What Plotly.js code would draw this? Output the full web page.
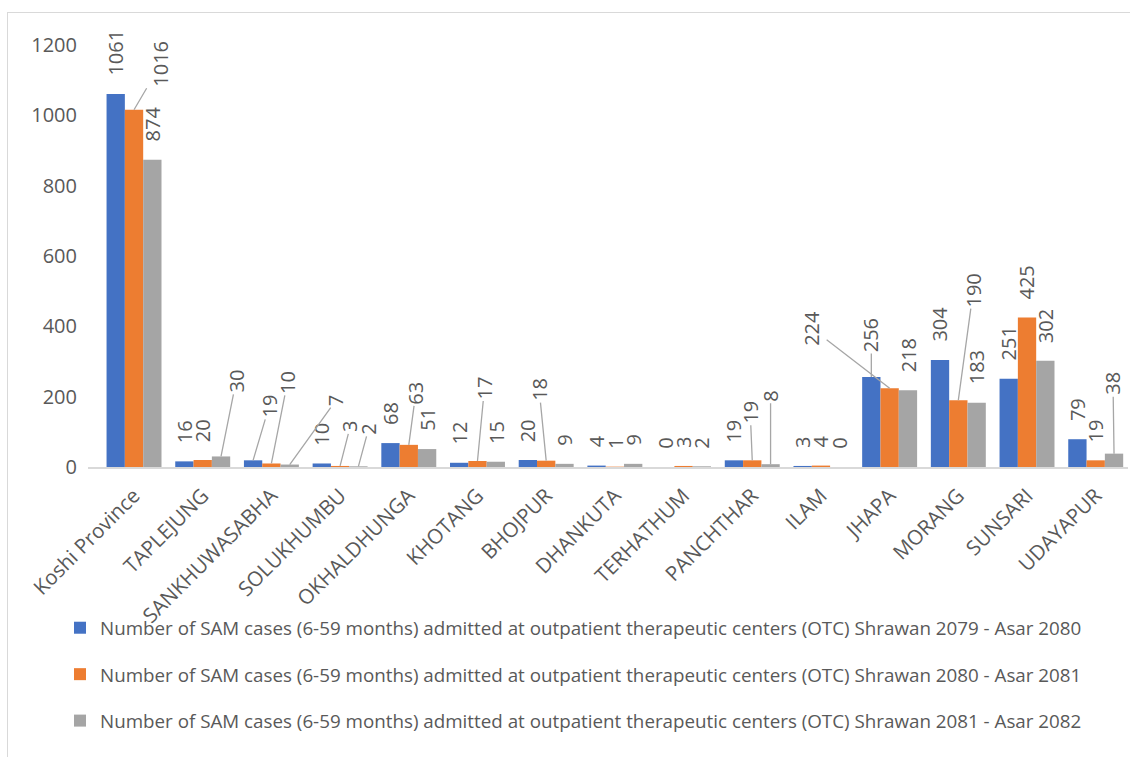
<!DOCTYPE html>
<html>
<head>
<meta charset="utf-8">
<script src="https://cdn.plot.ly/plotly-3.0.1.min.js"></script>
<style>
  html, body { margin: 0; padding: 0; background: #ffffff; overflow: hidden; }
  #wrap { position: relative; width: 1130px; height: 757px; }
  #chart { position: absolute; left: 0; top: 0; width: 1130px; height: 757px; }
  #frame { position: absolute; left: 7px; top: 12px; width: 1200px; height: 800px;
           border: 1px solid #d9d9d9; pointer-events: none; box-sizing: border-box; }
</style>
</head>
<body>
<div id="wrap">
  <div id="chart"></div>
  <div id="frame"></div>
</div>
<script>
// ---- data ----
const categories = ['Koshi Province', 'TAPLEJUNG', 'SANKHUWASABHA', 'SOLUKHUMBU', 'OKHALDHUNGA',
  'KHOTANG', 'BHOJPUR', 'DHANKUTA', 'TERHATHUM', 'PANCHTHAR', 'ILAM', 'JHAPA', 'MORANG',
  'SUNSARI', 'UDAYAPUR'];
const seriesNames = [
  'Number of SAM cases (6-59 months) admitted at outpatient therapeutic centers (OTC) Shrawan 2079 - Asar 2080',
  'Number of SAM cases (6-59 months) admitted at outpatient therapeutic centers (OTC) Shrawan 2080 - Asar 2081',
  'Number of SAM cases (6-59 months) admitted at outpatient therapeutic centers (OTC) Shrawan 2081 - Asar 2082'
];
const values2079_2080 = [1061, 16, 19, 10, 68, 12, 20, 4, 0, 19, 3, 256, 304, 251, 79];
const values2080_2081 = [1016, 20, 10, 3, 63, 17, 18, 1, 3, 19, 4, 224, 190, 425, 19];
const values2081_2082 = [874, 30, 7, 2, 51, 15, 9, 9, 2, 8, 0, 218, 183, 302, 38];
const yTicks = [0, 200, 400, 600, 800, 1000, 1200];

// ---- styles ----
const colors = ['#4472C4', '#ED7D31', '#A5A5A5'];
const FONT = 'Open Sans, sans-serif';
const TEXT = '#595959';
const BARGAP = 0.2;
// label leader-line offsets (pixels, label centre relative to bar top), key = series-category
const leaderOffsets = {
  '1-0': [27, -46],
  '2-1': [15, -75],
  '0-2': [16, -54], '1-2': [16, -81], '2-2': [46, -64],
  '1-3': [10, -39], '2-3': [10, -37],
  '1-4': [7, -52],
  '1-5': [7, -73],
  '1-6': [-7, -71],
  '1-9': [-2, -48], '2-9': [0, -68],
  '0-11': [0, -42], '1-11': [-78, -60],
  '1-12': [15, -110],
  '2-14': [-1, -70]
};

const allSeries = [values2079_2080, values2080_2081, values2081_2082];

const traces = allSeries.map((vals, s) => ({
  type: 'bar',
  name: seriesNames[s],
  x: categories,
  y: vals,
  marker: { color: colors[s], line: { width: 0 } },
  legendgroup: 'g' + s,
  hoverinfo: 'x+y'
}));

const annotations = [];
allSeries.forEach((vals, s) => {
  vals.forEach((v, i) => {
    const xpos = i + (s - 1) * (1 - BARGAP) / 3;
    const key = s + '-' + i;
    const base = {
      x: xpos, y: v, xref: 'x', yref: 'y',
      text: String(v), textangle: -90,
      font: { family: FONT, size: 20, color: TEXT }
    };
    if (leaderOffsets[key]) {
      const off = leaderOffsets[key];
      annotations.push(Object.assign(base, {
        showarrow: true, arrowhead: 0, arrowwidth: 1.3, arrowcolor: '#a6a6a6',
        ax: off[0], ay: off[1], standoff: 0, startstandoff: 0
      }));
    } else {
      annotations.push(Object.assign(base, {
        showarrow: false, yanchor: 'bottom', xanchor: 'center', yshift: 16
      }));
    }
  });
});

const PLOT_W = 1130 - 88 - 2;
const PLOT_H = 757 - 45 - 290;

const layout = {
  width: 1130, height: 757,
  margin: { l: 88, r: 2, t: 45, b: 290, autoexpand: false },
  paper_bgcolor: 'rgba(0,0,0,0)',
  plot_bgcolor: 'rgba(0,0,0,0)',
  barmode: 'group',
  bargap: BARGAP,
  bargroupgap: 0,
  showlegend: true,
  font: { family: FONT, color: TEXT },
  xaxis: {
    type: 'category',
    range: [-0.67, 14.47],
    showgrid: false, zeroline: false,
    showline: true, linecolor: '#d9d9d9', linewidth: 1.5,
    ticks: '', tickangle: -45,
    tickfont: { family: FONT, size: 20.5, color: TEXT },
    ticklabelstandoff: 7,
    automargin: false,
    fixedrange: true
  },
  yaxis: {
    range: [0, 1200],
    tickvals: yTicks,
    showgrid: false, zeroline: false, showline: false,
    ticks: '',
    tickfont: { family: FONT, size: 20, color: TEXT },
    ticklabelstandoff: 10,
    automargin: false,
    fixedrange: true
  },
  legend: {
    xref: 'paper', yref: 'paper',
    x: (60 - 88) / PLOT_W, y: -(609 - (757 - 290)) / PLOT_H,
    xanchor: 'left', yanchor: 'top',
    orientation: 'v',
    tracegroupgap: 19,
    font: { family: FONT, size: 18.8, color: TEXT },
    bgcolor: 'rgba(0,0,0,0)'
  },
  annotations: annotations
};

Plotly.newPlot('chart', traces, layout, { displayModeBar: false, staticPlot: true });
</script>
</body>
</html>
